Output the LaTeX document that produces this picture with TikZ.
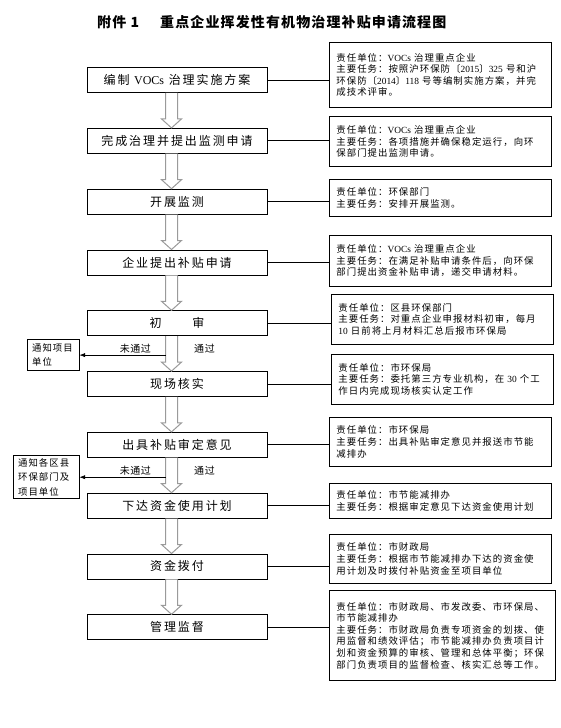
\documentclass[tikz,border=0pt]{standalone}
\usepackage{fontspec}
\setmainfont{Noto Sans CJK SC}
\newfontfamily\stepfont[LetterSpace=16]{Noto Sans CJK SC}
\newfontfamily\dutyfont[LetterSpace=11]{Noto Sans CJK SC}
\newfontfamily\labelfont[LetterSpace=6]{Noto Sans CJK SC}
\newfontfamily\headfont[LetterSpace=8]{Noto Sans CJK SC}
\newfontfamily\latin{Liberation Serif}
\usetikzlibrary{arrows.meta,positioning,calc}
\definecolor{shaftgray}{HTML}{9A9A9A}

\tikzset{
  stepbox/.style={draw, line width=0.8pt, fill=white, minimum width=180pt, minimum height=25pt, inner sep=0pt, font=\stepfont\fontsize{12}{14}\selectfont},
  dutybox/.style={draw, line width=0.8pt, fill=white, text width=208pt, inner xsep=7pt, inner ysep=2pt, align=left, anchor=north west, font=\dutyfont\fontsize{9.4}{11.6}\selectfont},
  notebox/.style={draw, line width=0.8pt, fill=white, inner xsep=5pt, inner ysep=1pt, align=left, font=\dutyfont\fontsize{9.4}{14.2}\selectfont},
  hollow/.style={draw=shaftgray, line width=1pt, fill=white},
  passlabel/.style={inner sep=1.5pt, font=\labelfont\fontsize{10}{12}\selectfont},
}

% hollow block arrow between two steps
\newcommand{\hollowarrow}[2]{%
  \draw[hollow] let \p1=($(#1.south)+(-5.5,0)$), \p2=(#2.north) in
    (\x1-6pt,\y1) -- (\x1-6pt,\y2+9pt) -- (\x1-10pt,\y2+9pt) -- (\x1,\y2)
    -- (\x1+10pt,\y2+9pt) -- (\x1+6pt,\y2+9pt) -- (\x1+6pt,\y1);}

\begin{document}
\begin{tikzpicture}[x=1pt, y=-1pt, >=Latex]
  \useasboundingbox (0,0) rectangle (561,728);

  % title
  \node[anchor=west, inner sep=0pt, font=\headfont\bfseries\fontsize{14}{17}\selectfont] (tno) at (97,22) {附件 1};
  \node[anchor=west, inner sep=0pt, font=\headfont\bfseries\fontsize{14}{17}\selectfont] (ttl) at (160,22) {重点企业挥发性有机物治理补贴申请流程图};

  % steps
  \node[stepbox] (c1) at (177,80) {编制 {\latin VOCs} 治理实施方案};
  \node[stepbox, below=35pt of c1] (c2) {完成治理并提出监测申请};
  \node[stepbox, below=35pt of c2] (c3) {开展监测};
  \node[stepbox, below=35pt of c3] (c4) {企业提出补贴申请};
  \node[stepbox, below=35pt of c4] (c5) {初\hspace{31pt}审};
  \node[stepbox, below=35pt of c5] (c6) {现场核实};
  \node[stepbox, below=35pt of c6] (c7) {出具补贴审定意见};
  \node[stepbox, below=35pt of c7] (c8) {下达资金使用计划};
  \node[stepbox, below=35pt of c8] (c9) {资金拨付};
  \node[stepbox, below=35pt of c9] (c10) {管理监督};

  % duties
  \node[dutybox, minimum height=65pt] (d1) at (329,42) {责任单位：{\latin VOCs} 治理重点企业\\主要任务：按照沪环保防〔{\latin 2015}〕{\latin 325} 号和沪\\环保防〔{\latin 2014}〕{\latin 118} 号等编制实施方案，并完\\成技术评审。};
  \node[dutybox, minimum height=50pt] (d2) at (329,116) {责任单位：{\latin VOCs} 治理重点企业\\主要任务：各项措施并确保稳定运行，向环\\保部门提出监测申请。};
  \node[dutybox, minimum height=37pt] (d3) at (329,179) {责任单位：环保部门\\主要任务：安排开展监测。};
  \node[dutybox, minimum height=51pt] (d4) at (329,235) {责任单位：{\latin VOCs} 治理重点企业\\主要任务：在满足补贴申请条件后，向环保\\部门提出资金补贴申请，递交申请材料。};
  \node[dutybox, minimum height=50pt] (d5) at (331,294) {责任单位：区县环保部门\\主要任务：对重点企业申报材料初审，每月\\{\latin 10} 日前将上月材料汇总后报市环保局};
  \node[dutybox, minimum height=50pt] (d6) at (331,354) {责任单位：市环保局\\主要任务：委托第三方专业机构，在 {\latin 30} 个工\\作日内完成现场核实认定工作};
  \node[dutybox, minimum height=49pt] (d7) at (329,417) {责任单位：市环保局\\主要任务：出具补贴审定意见并报送市节能\\减排办};
  \node[dutybox, minimum height=35pt] (d8) at (329,483) {责任单位：市节能减排办\\主要任务：根据审定意见下达资金使用计划};
  \node[dutybox, minimum height=49pt] (d9) at (329,534) {责任单位：市财政局\\主要任务：根据市节能减排办下达的资金使\\用计划及时拨付补贴资金至项目单位};
  \node[dutybox, minimum height=90pt, text width=212pt] (d10) at (329,590) {责任单位：市财政局、市发改委、市环保局、\\市节能减排办\\主要任务：市财政局负责专项资金的划拨、使\\用监督和绩效评估；市节能减排办负责项目计\\划和资金预算的审核、管理和总体平衡；环保\\部门负责项目的监督检查、核实汇总等工作。};

  \foreach \i in {1,...,10}
    \draw[line width=0.8pt] (c\i.east) -- (c\i.east -| d\i.west);

  \foreach \a/\b in {c1/c2, c2/c3, c3/c4, c4/c5, c5/c6, c6/c7, c7/c8, c8/c9, c9/c10}
    \hollowarrow{\a}{\b};

  % rejected branches
  \coordinate (fail1) at ($($(c5.south)!0.5!(c6.north)$)+(-11.5,1.5)$);
  \coordinate (fail2) at ($($(c7.south)!0.5!(c8.north)$)+(-11.5,2)$);
  \node[notebox, text width=42pt, minimum height=31pt, left=86pt of fail1] (n1) {通知项目\\单位};
  \node[notebox, text width=56pt, minimum height=43pt, left=86pt of fail2] (n2) {通知各区县\\环保部门及\\项目单位};
  \draw[->, line width=0.6pt] (fail1) -- node[passlabel, pos=0.35, above] (np1) {未通过} (n1.east);
  \draw[->, line width=0.6pt] (fail2) -- node[passlabel, pos=0.35, above] (np2) {未通过} (n2.east);
  \node[passlabel, anchor=south west] (p1) at ($(fail1)+(27,0)$) {通过};
  \node[passlabel, anchor=south west] (p2) at ($(fail2)+(27,0)$) {通过};
\end{tikzpicture}
\end{document}
